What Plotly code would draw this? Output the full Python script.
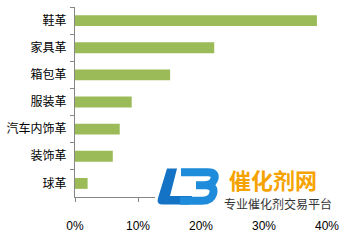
import plotly.graph_objects as go

categories = ["鞋革", "家具革", "箱包革", "服装革", "汽车内饰革", "装饰革", "球革"]
values = [38.4, 22.1, 15.1, 9.0, 7.1, 6.0, 2.0]
tick_vals = [0, 10, 20, 30, 40]
tick_text = ["0%", "10%", "20%", "30%", "40%"]

W, H = 347, 240
L, R, T, B = 75, 20, 7, 33
PW, PH = W - L - R, H - T - B

def px(x, y):
    return (x - L) / PW, (H - B - y) / PH

fig = go.Figure()
fig.add_trace(go.Bar(
    x=values, y=categories, orientation="h",
    marker=dict(color="#9BBB59", line=dict(width=0)),
    width=0.4,
))

def path(points):
    s = ""
    for cmd, pts in points:
        if cmd == "L":
            for p in pts:
                s += "L%.4f,%.4f " % px(*p)
        else:
            s += cmd + " ".join("%.4f,%.4f" % px(*p) for p in pts) + " "
    return s

shapes = []
# white background of the logo image
x0, y0 = px(155, 228)
x1, y1 = px(347, 172)
shapes.append(dict(type="rect", xref="paper", yref="paper", x0=x0, y0=y0, x1=x1, y1=y1,
                   fillcolor="white", line=dict(width=0), layer="above"))
# L of logo
shapes.append(dict(type="path", xref="paper", yref="paper",
    path=path([("M", [(167, 177)]), ("L", [(177, 177), (170, 206), (192, 206), (190, 215), (163, 215)]),
               ("Q", [(156, 215), (158, 208)]), ("Z", [])]),
    fillcolor="#1473C4", line=dict(width=0), layer="above"))
# B of logo
shapes.append(dict(type="path", xref="paper", yref="paper",
    path=path([("M", [(181, 181)]), ("L", [(208, 181)]), ("Q", [(217, 181), (214, 189)]),
               ("Q", [(212, 194.5), (204, 194.5)]), ("L", [(196, 194.5)]),
               ("M", [(204, 194.5)]), ("Q", [(216, 195), (213, 204)]),
               ("Q", [(211, 211), (202, 211)]), ("L", [(180, 211)])]),
    line=dict(color="#1E8BDB", width=8), layer="above"))

sx, sy = px(155, 217)
annotations = [
    # white strip of the logo image, covering the top of the tick labels
    dict(text=" ", xref="paper", yref="paper", x=sx, y=sy, xanchor="left", yanchor="top",
         width=192, height=11, bgcolor="white", borderpad=0, borderwidth=0, showarrow=False,
         font=dict(size=8)),
    dict(text="催化剂网", xref="paper", yref="paper", x=px(227, 188)[0], y=px(227, 188)[1],
         xanchor="left", yanchor="middle", showarrow=False,
         font=dict(family="Noto Sans CJK SC", size=22, color="#F5A300", weight="bold")),
    dict(text="专业催化剂交易平台", xref="paper", yref="paper", x=px(222, 214)[0], y=px(222, 214)[1],
         xanchor="left", yanchor="middle", showarrow=False,
         font=dict(family="Noto Sans CJK SC", size=12, color="#333333")),
]

fig.update_layout(
    width=W, height=H,
    margin=dict(l=L, r=R, t=T, b=B),
    paper_bgcolor="white", plot_bgcolor="white",
    showlegend=False,
    bargap=0.6,
    font=dict(family="Noto Sans CJK SC, Liberation Sans", size=12, color="#000000"),
    shapes=shapes,
    annotations=annotations,
)
fig.update_xaxes(
    range=[0, 40], tickvals=tick_vals, ticktext=tick_text,
    showgrid=False, zeroline=False,
    showline=True, linecolor="#868686", linewidth=1,
    ticks="outside", ticklen=4, tickcolor="#868686",
    ticklabelstandoff=14,
    tickfont=dict(family="Liberation Sans", size=12, color="#000000"),
)
fig.update_yaxes(
    categoryorder="array", categoryarray=categories, autorange="reversed",
    showgrid=False, zeroline=False,
    showline=True, linecolor="#868686", linewidth=1,
    ticks="outside", ticklen=4, tickcolor="#868686", tickson="boundaries",
    ticklabelstandoff=5,
    tickfont=dict(family="Noto Sans CJK SC", size=12, color="#000000"),
)

fig.write_html("out.html")
